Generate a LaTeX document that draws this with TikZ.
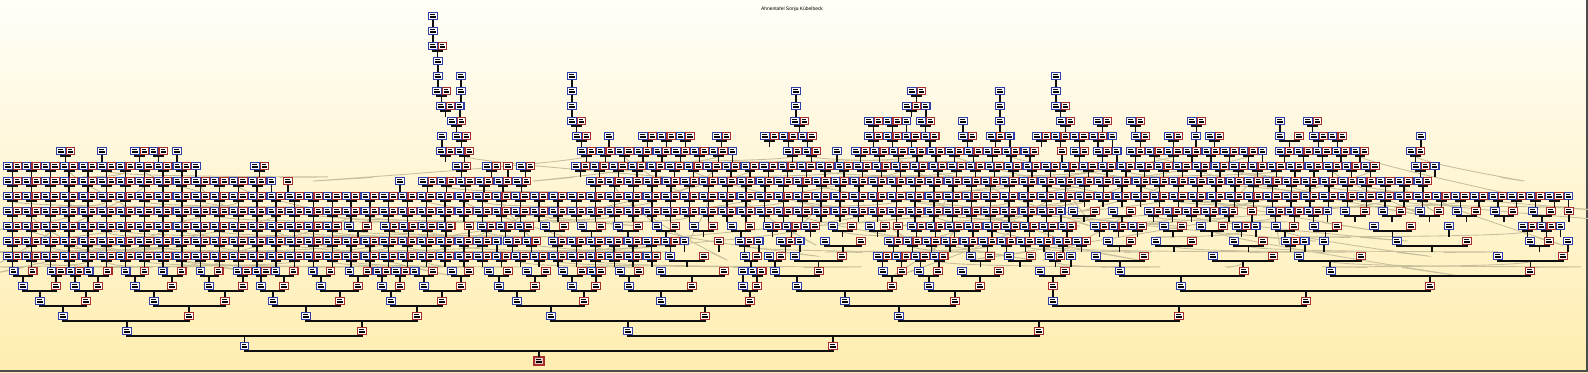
\documentclass[tikz,border=0pt]{standalone}
\usepackage{fontspec}
\setmainfont{Liberation Sans}
\definecolor{MaleColor}{RGB}{48,62,168}
\definecolor{FemaleColor}{RGB}{168,46,46}
\definecolor{LinkColor}{RGB}{15,15,15}
\definecolor{CrossColor}{RGB}{200,192,156}
\definecolor{BgTop}{RGB}{255,254,248}
\definecolor{BgBottom}{RGB}{255,237,176}
\pgfdeclarelayer{back}
\pgfdeclarelayer{cross}
\pgfsetlayers{back,cross,main}
% tiny name lines inside a box
\newcommand\boxmark{\vbox{\hrule width 1.2pt height 0.28pt\vskip 0.35pt\hrule width 1.45pt height 0.62pt}}
\tikzset{
    person/.style={
        draw,
        line width=0.35pt,
        fill=white,
        minimum width=0.084cm,
        minimum height=0.072cm,
        inner sep=0pt,
        outer sep=0pt
    },
    male/.style={person, draw=MaleColor},
    female/.style={person, draw=FemaleColor},
    proband/.style={person, draw=FemaleColor, fill=FemaleColor!25, minimum width=0.1cm, minimum height=0.08cm},
    link/.style={draw=LinkColor, line width=0.4pt},
    cross/.style={draw=CrossColor, line width=0.25pt}
}

\begin{document}
\begin{tikzpicture}[x=0.01cm, y=-0.01cm]
    \useasboundingbox (0,0) rectangle (1588,372);
    \begin{pgfonlayer}{back}
        \shade[top color=BgTop, bottom color=BgBottom] (0,0) rectangle (1588,372);
        \draw[black!70, line width=0.6pt] (0,371) -- (1587,371) -- (1587,0);
    \end{pgfonlayer}
    \pgfmathsetseed{42}

    % Title
    \node[font=\fontsize{1.4}{1.7}\selectfont] (title) at (792,9) {Ahnentafel Sonja Kübelbeck};

    % Proband and the first six generations (Kekule numbers)
    \node[proband] (p1) at (539,361) {\boxmark};
    \foreach \g/\list in {
        1/{2/244.5,3/833},
        2/{4/127,5/362,6/628,7/1039},
        3/{8/63,9/189,10/306,11/417,12/551,13/705,14/899,15/1179},
        4/{16/40,17/86,18/154,19/225,20/273,21/340,22/391,23/442,24/517,25/584,26/661,27/750,28/845,29/955,30/1053,31/1306},
        5/{32/23,33/56,34/75,35/98,36/135,37/172,38/209,39/243,40/261,41/284,42/321,43/358,44/382,45/400,46/424,47/461,48/499,49/535,50/572,51/596,52/629,53/692,54/743,55/757,56/797,57/892,58/929,59/980,61/1053,62/1181,63/1430},
        6/{64/13.8,65/32.7,66/51.7,67/61,68/70.4,69/79.8,70/88.8,71/107.8,72/125.7,73/144.6,74/162.9,75/181.8,76/200.4,77/218.7,78/237.6,79/247,80/256.5,81/266,82/275.5,83/293.7,84/312.7,85/330.6,86/349.5,87/367.8,88/377.2,89/386.6,90/396,91/405.4,92/414.8,93/433,94/452,95/469,96/489,97/508,98/527,99/546,100/563,101/582,102/591.4,103/601,104/620,105/639,106/661,107/724,108/743,110/752.4,111/761.8,112/775,113/819,114/883,115/902,116/919,117/938,118/962,119/999,122/1040,123/1065,124/1120,125/1244,126/1331,127/1530}%
    }{
        \pgfmathsetmacro\yrow{361-15*\g}
        \foreach \n/\x in \list {
            \ifodd\n\relax \def\kind{female}\else\def\kind{male}\fi
            \node[\kind] (p\n) at (\x,\yrow) {\boxmark};
        }
    }

    % Couples of the first six generations
    \foreach \c in {1,...,29,31,32,33,34,35,36,37,38,39,40,41,42,43,44,45,46,47,48,49,50,51,52,53,55,56,57,58,59,61,62,63} {
        \pgfmathtruncatemacro\fa{2*\c}
        \pgfmathtruncatemacro\mo{2*\c+1}
        \draw[link] (p\fa.south) -- ++(0,1.4) -| (p\c.north);
        \draw[link] (p\mo.south) -- ++(0,1.4) -| (p\c.north);
    }
    \draw[link] (p61.south) -- (p30.north);
    \draw[link] (p108.south) -- (p54.north);

    % Older generations: runs x/count/parity/spacing
    \foreach \g/\runs in {
        7/{8/70/0/9.4,670/2/0/34,745/4/0/12,795/2/0/47,878/8/0/9.4,971/2/0/19,1009/2/0/22,1050/3/0/10.5,1096/2/0/48,1213/2/0/60,1299/2/0/62,1498/2/0/65},
        8/{8/53/0/9.4,508/4/0/9.4,553/15/0/9.4,719/1/1/9.4,740/3/0/9.4,781/3/0/9.4,825/2/0/36,889/22/0/9.4,1108/2/0/23,1156/2/0/36,1234/2/0/29,1286/3/0/9.4,1324/1/0/9.4,1397/2/0/70,1530/3/0/19},
        9/{8/36/0/9.4,349/2/0/18,385/8/0/9.4,469/1/1/9.4,482/6/0/9.4,545/2/0/19,582/2/0/19,618/2/0/20,657/2/0/18,694/2/0/19,732/2/0/18,768/6/0/9.4,833/2/0/19,870/2/0/15,898/1/1/9.4,912/18/0/9.4,1095/6/0/9.4,1164/2/0/18,1201/2/0/22,1237/3/0/9.4,1276/2/0/18,1314/2/0/23,1374/2/0/37,1449/1/0/9.4,1523/5/0/9.4},
        10/{8/113/0/9.4,1073/2/0/22,1113/2/0/18,1149/10/0/9.4,1252/1/1/9.4,1271/7/0/9.4,1345/2/0/20,1383/2/0/18,1420/2/0/19,1457/2/0/19,1495/2/0/18,1533/2/0/18,1569/1/1/9.4},
        11/{8/167/0/9.4},
        12/{8/29/0/9.4,288/1/1/9.4,400/1/0/9.4,423/12/0/9.4,591/90/0/9.4},
        13/{8/21/0/9.4,255/2/0/9.4,457/2/0/9.4,487/2/0/9.4,508/1/1/9.4,521/2/0/9.4,576/86/0/9.4,1416/3/0/9.4},
        14/{61/2/0/9.4,102/1/0/9.4,135/4/0/9.4,177/1/0/9.4,441/4/0/9.4,582/17/0/9.4,788/4/0/9.4,837/1/0/9.4,856/20/0/9.4,1062/1/1/9.4,1075/2/0/9.4,1098/3/0/9.4,1131/15/0/9.4,1280/10/0/9.4,1411/2/0/9.4},
        15/{442/1/0/9.4,457/2/0/9.4,577/2/0/9.4,609/1/0/9.4,643/6/0/9.4,717/2/0/9.4,765/6/0/9.4,869/8/0/9.4,963/2/0/9.4,991/3/0/9.4,1037/9/0/9.4,1136/2/0/9.4,1169/2/0/9.4,1196/1/0/9.4,1210/2/0/9.4,1280/2/0/19,1314/4/0/9.4,1421/1/0/9.4},
        16/{452/2/0/9.4,572/2/0/9.4,795/2/0/9.4,869/5/0/9.4,921/2/0/9.4,963/1/0/9.4,1000/1/0/9.4,1061/2/0/9.4,1098/2/0/9.4,1131/2/0/9.4,1192/2/0/9.4,1280/1/0/9.4,1308/2/0/9.4},
        17/{441/3/0/9.4,572/1/0/9.4,796/1/0/9.4,907/3/0/9.4,1000/1/0/9.4,1056/2/0/9.4},
        18/{437/2/0/9.4,461/1/0/9.4,572/1/0/9.4,796/1/0/9.4,912/2/0/9.4,1000/1/0/9.4,1056/1/0/9.4},
        19/{438/1/0/9.4,461/1/0/9.4,572/1/0/9.4,1056/1/0/9.4},
        20/{438/1/0/9.4},
        21/{433/2/0/9.4},
        22/{433/1/0/9.4},
        23/{433/1/0/9.4}%
    }{
        \pgfmathsetmacro\yrow{361-15*\g}
        \foreach \x/\n/\s/\d in \runs {
            \foreach \i in {1,...,\n} {
                \pgfmathsetmacro\xb{\x+(\i-1)*\d}
                \pgfmathtruncatemacro\sex{mod(\i+\s,2)}
                \ifnum\sex=1 \def\kind{male}\else\def\kind{female}\fi
                \node[\kind] (g\g-\x-\i) at (\xb,\yrow) {\boxmark};
                \ifodd\i\relax
                    \ifnum\i=\n\relax
                        \draw[link] (g\g-\x-\i.south) -- ++(0,7.8);
                    \fi
                \else
                    \pgfmathtruncatemacro\j{\i-1}
                    \pgfmathsetmacro\half{-\d/2}
                    \draw[link] (g\g-\x-\j.south) -- ++(0,1.4) -| (g\g-\x-\i.south);
                    \draw[link] (g\g-\x-\i.south) ++(\half,1.4) -- ++(0,6.4);
                    % faint links to ancestors found twice
                    \ifnum\g<15\relax
                        \pgfmathrandominteger{\r}{0}{99}
                        \ifnum\r<40\relax
                            \pgfmathrandominteger{\dx}{-220}{220}
                            \pgfmathrandominteger{\dr}{0}{2}
                            \ifnum\g<9\relax \def\dr{0}\fi
                            \begin{pgfonlayer}{cross}
                                \draw[cross] (g\g-\x-\i.south) ++(\half,1.4) .. controls +(0,8) and +(\dx,6.4+15*\dr-8) .. +(\dx,6.4+15*\dr);
                            \end{pgfonlayer}
                        \fi
                    \fi
                \fi
            }
        }
    }
\end{tikzpicture}
\end{document}
